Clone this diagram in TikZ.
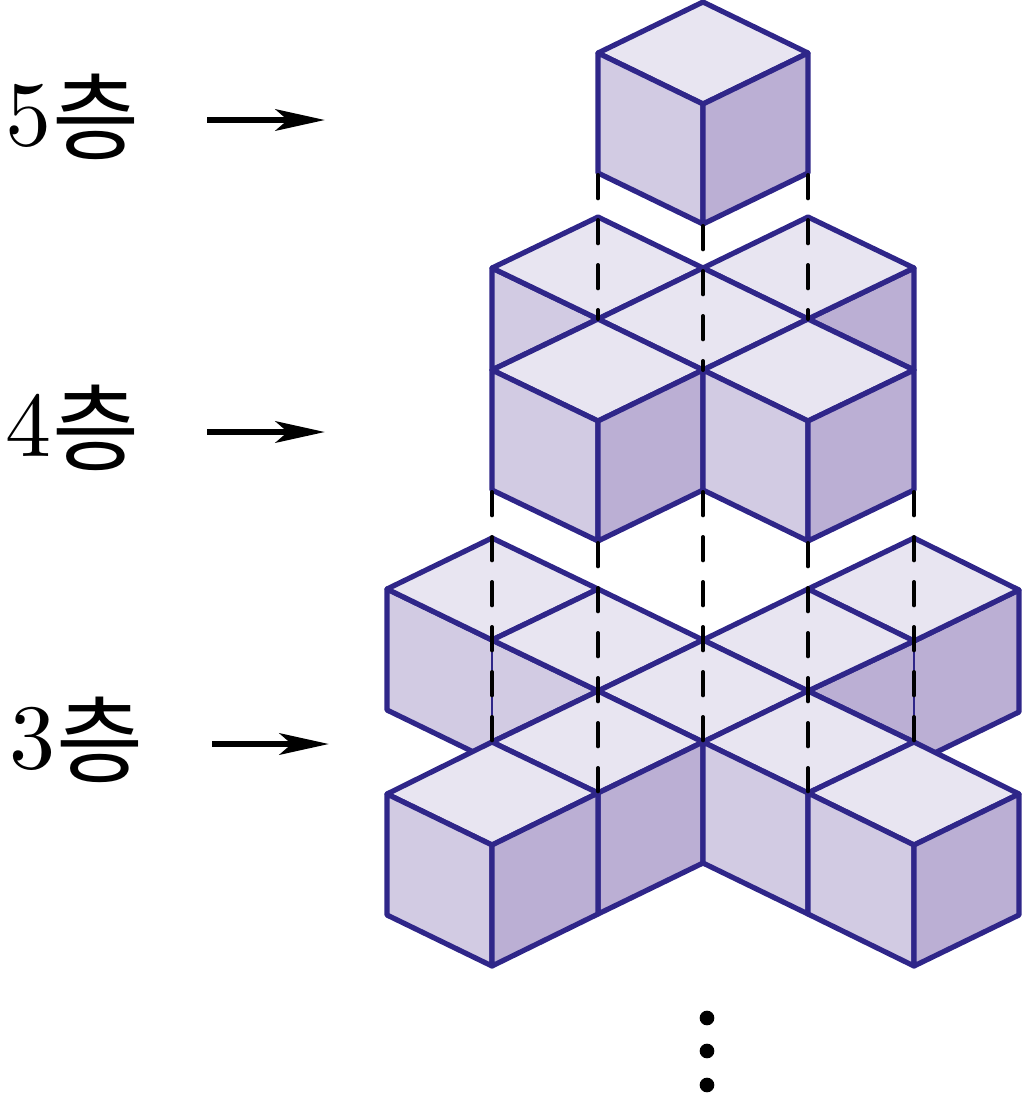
\documentclass[tikz,border=0pt]{standalone}
\usepackage{fontspec}
\newfontfamily\kofont{Noto Sans CJK KR}
\newfontfamily\numfont{Latin Modern Roman}[OpticalSize=10]
\usetikzlibrary{arrows.meta}

\definecolor{edgeblue}{HTML}{2F2689}
\definecolor{topfill}{HTML}{E8E5F1}
\definecolor{leftfill}{HTML}{D2CBE3}
\definecolor{rightfill}{HTML}{BBAFD4}

\newcommand{\floorword}{\hspace{1pt}\raisebox{-5.5pt}{\fontsize{71}{71}\selectfont\kofont 층}}

\tikzset{
	every picture/.style={line width=0.75pt},
	edge/.style={draw=edgeblue,line width=3.9pt,line join=round},
	topface/.style={edge,fill=topfill},
	leftface/.style={edge,fill=leftfill},
	rightface/.style={edge,fill=rightfill},
	hidden/.style={black,line width=3pt,line cap=round,dash pattern=on 17.5pt off 16.25pt},
	thinedge/.style={draw=edgeblue,line width=1.8pt},
	floorlabel/.style={anchor=base west,inner sep=0pt,font=\fontsize{69}{69}\selectfont\numfont},
	floorarrow/.style={line width=5pt,-{Stealth[length=37pt,width=16pt,inset=9pt]}},
	dot/.style={circle,fill=black,inner sep=0pt,minimum size=11pt}
}

\begin{document}
\begin{tikzpicture}[x=0.75pt,y=0.75pt,yscale=-1,xscale=1]
	\useasboundingbox (0,0) rectangle (1022,1108);
	
	%Floor three, back cubes
	\draw [leftface]   (492,640) -- (387,589) -- (387,710) -- (492,761) ;
	\draw [leftface]   (492,640) -- (598,691) -- (492,742) ;
	\draw [rightface]   (914,641) -- (1019,590) -- (1019,712) -- (914,763) ;
	\draw [rightface]   (914,641) -- (808,691) -- (914,742) ;
	\draw [thinedge]   (492,640) -- (492,742) ;
	\draw [thinedge]   (914,641) -- (914,742) ;
	%Floor three, top faces
	\draw [topface]   (492,538) -- (598,589) -- (492,640) -- (387,589) -- cycle ;
	\draw [topface]   (914,538) -- (1019,590) -- (914,641) -- (808,589) -- cycle ;
	\draw [topface]   (598,589) -- (703,640) -- (598,691) -- (492,640) -- cycle ;
	\draw [topface]   (808,589) -- (914,641) -- (808,691) -- (703,640) -- cycle ;
	\draw [topface]   (703,640) -- (808,691) -- (703,742) -- (598,691) -- cycle ;
	\draw [topface]   (598,691) -- (703,742) -- (598,793) -- (492,742) -- cycle ;
	\draw [topface]   (808,691) -- (914,742) -- (808,793) -- (703,742) -- cycle ;
	%Floor three, centre faces
	\draw [rightface]   (598,793) -- (703,742) -- (703,863) -- (598,914) -- cycle ;
	\draw [leftface]   (703,742) -- (808,793) -- (808,914) -- (703,863) -- cycle ;
	%Floor three, front left cube
	\draw [topface]   (492,742) -- (598,793) -- (492,845) -- (387,794) -- cycle ;
	\draw [leftface]   (387,794) -- (492,845) -- (492,966) -- (387,915) -- cycle ;
	\draw [rightface]   (492,845) -- (598,793) -- (598,914) -- (492,966) -- cycle ;
	%Floor three, front right cube
	\draw [topface]   (914,742) -- (1019,794) -- (914,845) -- (808,793) -- cycle ;
	\draw [leftface]   (808,793) -- (914,845) -- (914,966) -- (808,914) -- cycle ;
	\draw [rightface]   (914,845) -- (1019,794) -- (1019,915) -- (914,966) -- cycle ;
	
	%Floor four, back cubes
	\draw [leftface]   (492,268) -- (598,319) -- (492,370) -- cycle ;
	\draw [rightface]   (914,268) -- (808,319) -- (914,370) -- cycle ;
	\draw [topface]   (598,217) -- (703,268) -- (598,319) -- (492,268) -- cycle ;
	\draw [topface]   (808,217) -- (914,268) -- (808,319) -- (703,268) -- cycle ;
	\draw [topface]   (703,268) -- (808,319) -- (703,370) -- (598,319) -- cycle ;
	%Floor four, front cubes
	\draw [topface]   (598,319) -- (703,370) -- (598,421) -- (492,370) -- cycle ;
	\draw [leftface]   (492,370) -- (598,421) -- (598,541) -- (492,490) -- cycle ;
	\draw [rightface]   (598,421) -- (703,370) -- (703,490) -- (598,541) -- cycle ;
	\draw [topface]   (808,319) -- (914,370) -- (808,421) -- (703,370) -- cycle ;
	\draw [leftface]   (703,370) -- (808,421) -- (808,541) -- (703,490) -- cycle ;
	\draw [rightface]   (808,421) -- (914,370) -- (914,490) -- (808,541) -- cycle ;
	
	%Floor five
	\draw [topface]   (703,2) -- (808,53) -- (703,104) -- (598,53) -- cycle ;
	\draw [leftface]   (598,53) -- (703,104) -- (703,224) -- (598,173) -- cycle ;
	\draw [rightface]   (703,104) -- (808,53) -- (808,173) -- (703,224) -- cycle ;
	
	%Dashed lines
	\draw [hidden]   (598,175) -- (598,319) ;
	\draw [hidden]   (703,226) -- (703,370) ;
	\draw [hidden]   (808,175) -- (808,319) ;
	\draw [hidden]   (492,492) -- (492,742) ;
	\draw [hidden]   (598,543) -- (598,793) ;
	\draw [hidden]   (703,492) -- (703,742) ;
	\draw [hidden]   (808,543) -- (808,793) ;
	\draw [hidden]   (914,492) -- (914,742) ;
	
	%Labels and arrows
	\node [floorlabel] (lab5) at (5,145) {5\floorword};
	\node [floorlabel] (lab4) at (5,456) {4\floorword};
	\node [floorlabel] (lab3) at (9,768) {3\floorword};
	\coordinate (from5) at (207,120);
	\coordinate (to5) at (325,120);
	\coordinate (from4) at (207,432);
	\coordinate (to4) at (325,432);
	\coordinate (from3) at (212,744);
	\coordinate (to3) at (329,744);
	\draw [floorarrow]   (from5) -- (to5) ;
	\draw [floorarrow]   (from4) -- (to4) ;
	\draw [floorarrow]   (from3) -- (to3) ;
	
	%Dots
	\node [dot] (dota) at (707,1018) {};
	\node [dot] (dotb) at (707,1051) {};
	\node [dot] (dotc) at (707,1085) {};
\end{tikzpicture}
\end{document}
